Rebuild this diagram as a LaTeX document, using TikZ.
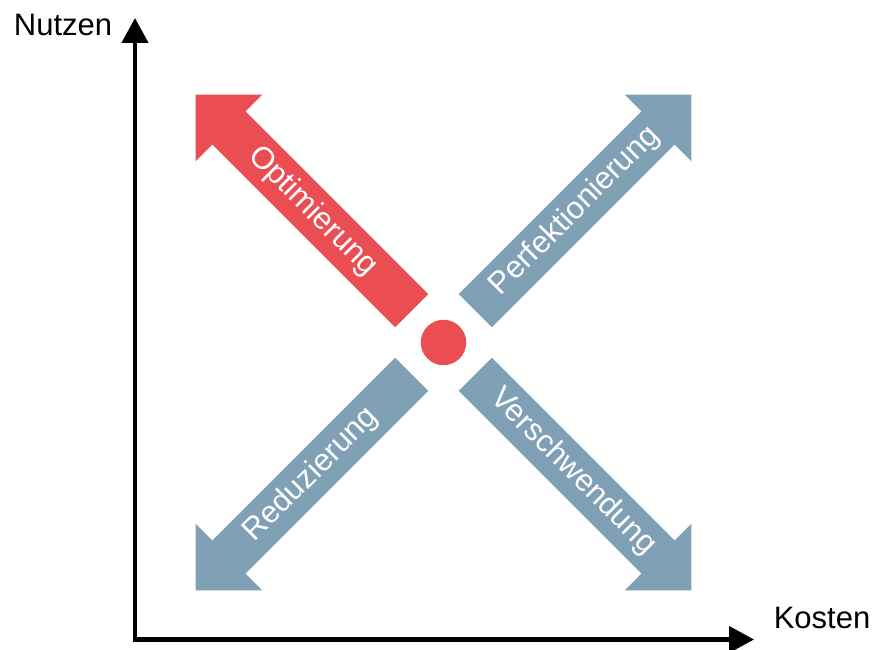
\documentclass[tikz,border=0pt]{standalone}
\usepackage{fontspec}
\setmainfont{Liberation Sans}
\usetikzlibrary{arrows.meta}
\definecolor{redc}{RGB}{234,78,82}
\definecolor{bluec}{RGB}{128,160,181}
\tikzset{
  arrowlabel/.style={text=white, font=\fontsize{31}{37}\selectfont, inner sep=0pt},
  axislabel/.style={text=black, font=\fontsize{31}{37}\selectfont, inner sep=0pt},
  axisline/.style={line width=4.5pt, line join=miter,
    {Triangle[length=25pt,width=26pt]}-{Triangle[length=25pt,width=26pt]}},
  dotstyle/.style={circle, fill=redc, minimum size=45.4pt, inner sep=0pt}
}
\begin{document}
\begin{tikzpicture}[x=1pt,y=1pt]
\useasboundingbox (0,0) rectangle (876,650);
\coordinate (C) at (443.5,307.5);
% big arrows
\foreach \ang/\col in {135/redc, 45/bluec, 225/bluec, 315/bluec} {
  \fill[\col, shift={(C)}, rotate=\ang]
    (45,-23.5) -- (303.5,-23.5) -- (303.5,-47.2) -- (350.7,0)
    -- (303.5,47.2) -- (303.5,23.5) -- (45,23.5) -- cycle;
}
% labels on arrows
\node[arrowlabel, rotate=-45] (lopt) at ([shift={(135:185)}]C) {Optimierung};
\node[arrowlabel, rotate=45] (lperf) at ([shift={(45:186)}]C) {Perfektionierung};
\node[arrowlabel, rotate=45] (lred) at ([shift={(225:187)}]C) {Reduzierung};
\node[arrowlabel, rotate=-45] (lver) at ([shift={(315:183)}]C) {Verschwendung};
% centre dot
\node[dotstyle] (dot) at (C) {};
% axes
\coordinate (O) at (135,10.5);
\coordinate (Ytip) at (135,632);
\coordinate (Xtip) at (754,10.5);
\draw[axisline] (Ytip) -- (O) -- (Xtip);
\node[axislabel] (nutzen) at (63,625) {Nutzen};
\node[axislabel] (kosten) at (822,32) {Kosten};
\end{tikzpicture}
\end{document}
